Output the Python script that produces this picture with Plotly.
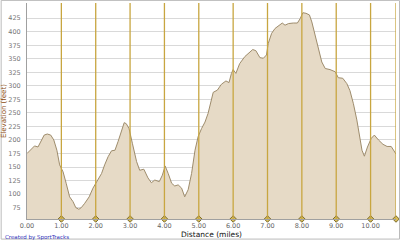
import plotly.graph_objects as go

distance = [0.00, 0.125, 0.22, 0.32, 0.41, 0.50, 0.59, 0.69, 0.78, 0.87, 0.95, 1.05, 1.14, 1.24, 1.34,
            1.42, 1.51, 1.58, 1.68, 1.81, 1.92, 2.04, 2.17, 2.26, 2.36, 2.46, 2.56, 2.65, 2.75, 2.83,
            2.89, 2.97, 3.07, 3.19, 3.28, 3.40, 3.52, 3.62, 3.72, 3.85, 3.94, 4.02, 4.11, 4.21, 4.30,
            4.40, 4.50, 4.59, 4.69, 4.79, 4.89, 4.98, 5.08, 5.18, 5.27, 5.34, 5.42, 5.54, 5.66, 5.79,
            5.88, 5.95, 6.00, 6.08, 6.19, 6.34, 6.44, 6.57, 6.66, 6.78, 6.88, 6.97, 7.02, 7.12, 7.22,
            7.34, 7.43, 7.51, 7.61, 7.75, 7.87, 7.95, 8.03, 8.12, 8.22, 8.29, 8.39, 8.48, 8.58, 8.68,
            8.82, 8.97, 9.06, 9.19, 9.31, 9.40, 9.50, 9.60, 9.68, 9.75, 9.82, 9.91, 10.02, 10.11, 10.23,
            10.36, 10.48, 10.60, 10.74]
elevation = [175, 184, 189, 187, 197, 209, 211, 209, 200, 181, 154, 141, 120, 95, 86,
             75, 72, 75, 83, 95, 111, 123, 138, 154, 169, 180, 181, 197, 215, 232,
             230, 221, 193, 160, 144, 146, 130, 121, 126, 123, 135, 152, 138, 120, 115,
             117, 111, 95, 108, 138, 181, 206, 221, 233, 249, 270, 288, 292, 303, 309,
             306, 323, 330, 323, 341, 354, 359, 367, 365, 352, 351, 357, 378, 397, 406,
             412, 416, 412, 415, 416, 416, 424, 435, 434, 431, 418, 394, 369, 344, 332,
             330, 326, 315, 314, 304, 291, 267, 237, 206, 181, 170, 187, 203, 209, 200,
             192, 188, 188, 174]

mile_marks = [1, 2, 3, 4, 5, 6, 7, 8, 9, 10, 10.74]
x_ticks = [0, 1, 2, 3, 4, 5, 6, 7, 8, 9, 10]
x_tick_labels = ["0.00", "1.00", "2.00", "3.00", "4.00", "5.00", "6.00", "7.00", "8.00", "9.00", "10.00"]
y_ticks = [75, 100, 125, 150, 175, 200, 225, 250, 275, 300, 325, 350, 375, 400, 425]

Y_MIN, Y_MAX = 54, 453
GOLD = "#C8A640"

fig = go.Figure()
fig.add_trace(go.Scatter(
    x=distance, y=elevation, mode="lines", fill="tozeroy",
    fillcolor="#E6DAC6", line=dict(color="#9E8C6C", width=1), hoverinfo="skip"))

for m in mile_marks:
    fig.add_shape(type="line", xref="x", yref="y", x0=m, x1=m, y0=Y_MIN, y1=Y_MAX,
                  line=dict(color=GOLD, width=1.3), layer="above")

fig.add_shape(type="rect", xref="paper", yref="paper", x0=-0.070, x1=1.0095, y0=-0.093, y1=1.012,
              line=dict(color="#BBBBBB", width=1), fillcolor="rgba(0,0,0,0)")

fig.add_trace(go.Scatter(
    x=mile_marks, y=[Y_MIN] * len(mile_marks), mode="markers", cliponaxis=False,
    marker=dict(symbol="diamond", size=5, color="#D8BC58", line=dict(color="#7A6A2A", width=1)),
    hoverinfo="skip"))

fig.update_layout(
    width=400, height=240, margin=dict(l=27, r=4, t=3, b=21),
    paper_bgcolor="white", plot_bgcolor="white", showlegend=False,
    font=dict(family="DejaVu Sans", size=7, color="#777777"),
    xaxis=dict(range=[0, 10.74], tickvals=x_ticks, ticktext=x_tick_labels,
               showgrid=False, zeroline=False, showline=True, linecolor="#A0A0A0",
               ticks="", tickfont=dict(size=6.5, color="#666666")),
    yaxis=dict(range=[Y_MIN, Y_MAX], tickvals=y_ticks, showgrid=True, gridcolor="#D9D9D9",
               gridwidth=1, zeroline=False, showline=True, linecolor="#A0A0A0",
               ticks="", ticklabelstandoff=4, tickfont=dict(size=6.5, color="#777777")),
    annotations=[
        dict(text="Elevation (feet)", xref="paper", yref="paper", x=-0.062, y=0.5,
             textangle=-90, showarrow=False, xanchor="center", yanchor="middle",
             font=dict(size=7, color="#8B4A10")),
        dict(text="Distance (miles)", xref="paper", yref="paper", x=0.5, y=-0.072,
             showarrow=False, xanchor="center", yanchor="middle",
             font=dict(size=7.5, color="#111111")),
        dict(text="Created by SportTracks", xref="paper", yref="paper", x=-0.066, y=-0.085,
             showarrow=False, xanchor="left", yanchor="middle",
             font=dict(size=5.5, color="#3333BB")),
    ],
)

fig.write_html("out.html")
